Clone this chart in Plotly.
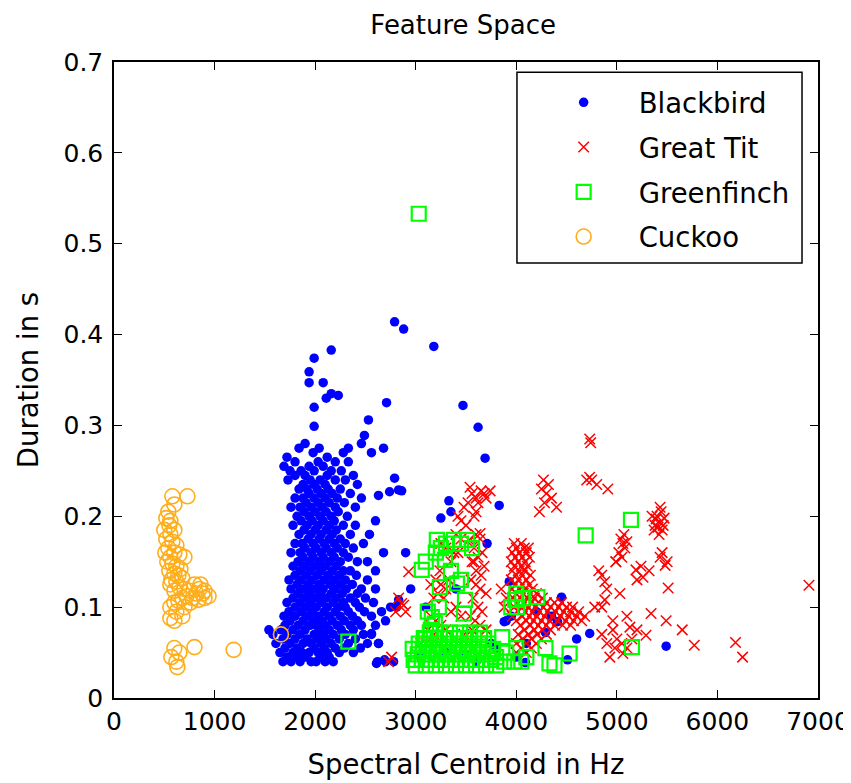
import plotly.graph_objects as go

# ---------------- data (Hz, s) ----------------
# Blackbird: main column, rows of (duration, [centroids])
blackbird_rows = [
    (0.040, [1680, 1760, 1850, 1960, 2010, 2100, 2180, 2620, 2700]),
    (0.045, [1720, 1820, 1900, 2050, 2140]),
    (0.050, [1650, 1780, 1870, 1940, 2030, 2120, 2240, 2380]),
    (0.055, [1700, 1820, 1990, 2090, 2200, 2290, 2450]),
    (0.060, [1610, 1750, 1880, 1960, 2060, 2160, 2330, 2520, 2630]),
    (0.065, [1680, 1800, 1920, 2020, 2110, 2240, 2400]),
    (0.070, [1580, 1720, 1850, 1990, 2080, 2180, 2300, 2480, 2560]),
    (0.075, [1540, 1660, 1780, 1900, 2040, 2140, 2260, 2380]),
    (0.080, [1700, 1830, 1950, 2010, 2100, 2220, 2350, 2460, 2600]),
    (0.085, [1750, 1880, 1980, 2070, 2170, 2290, 2420, 2700]),
    (0.090, [1690, 1800, 1920, 2030, 2140, 2250, 2370, 2560]),
    (0.095, [1740, 1860, 1970, 2090, 2200, 2330, 2490, 2660]),
    (0.100, [1800, 1910, 2010, 2120, 2230, 2300, 2440, 2750]),
    (0.105, [1720, 1850, 1950, 2060, 2180, 2280, 2400, 2580]),
    (0.110, [1780, 1890, 2000, 2110, 2210, 2350, 2500]),
    (0.115, [1830, 1940, 2050, 2160, 2270, 2420]),
    (0.120, [1760, 1880, 1990, 2080, 2200, 2310, 2460, 2600]),
    (0.125, [1820, 1930, 2040, 2150, 2250, 2370]),
    (0.130, [1740, 1860, 1970, 2090, 2190, 2300, 2520]),
    (0.135, [1800, 1910, 2020, 2130, 2240, 2410]),
    (0.140, [1850, 1950, 2060, 2170, 2280, 2350, 2600]),
    (0.145, [1780, 1890, 2000, 2100, 2210]),
    (0.150, [1830, 1940, 2040, 2140, 2250, 2420, 2520]),
    (0.155, [1880, 1980, 2080, 2190, 2330]),
    (0.160, [1760, 1850, 1960, 2060, 2160, 2280, 2680]),
    (0.165, [1900, 2010, 2110, 2220, 2380]),
    (0.170, [1800, 1870, 1980, 2090, 2190, 2300, 2480]),
    (0.175, [1930, 2040, 2140, 2250]),
    (0.180, [1840, 1960, 2060, 2170, 2350, 2540]),
    (0.185, [1890, 2000, 2110, 2210]),
    (0.190, [1780, 1920, 2030, 2140, 2280, 2400]),
    (0.195, [1860, 1970, 2080, 2190, 2600]),
    (0.200, [1820, 1940, 2050, 2160, 2320]),
    (0.205, [1890, 2000, 2110, 2230]),
    (0.210, [1760, 1850, 1960, 2070, 2200, 2400]),
    (0.215, [1910, 2030, 2140, 2290]),
    (0.220, [1800, 1880, 1990, 2100, 2220, 2460]),
    (0.225, [1940, 2060, 2170, 2350]),
    (0.230, [1840, 1920, 2020, 2130, 2250]),
    (0.235, [1880, 1990, 2100, 2420]),
    (0.240, [1730, 1950, 2050, 2200, 2300]),
    (0.245, [1800, 1900, 2120, 2380]),
    (0.250, [1750, 1860, 1990, 2160, 2260]),
    (0.255, [1690, 1940, 2080]),
    (0.260, [1800, 2030, 2200, 2330]),
    (0.265, [1720, 2120]),
    (0.270, [1980, 2280, 2560]),
    (0.275, [1840, 2040, 2330, 2680]),
    (0.280, [1900, 2460]),
]
blackbird_extra_x = [1990, 2530, 2490, 1990, 2710, 2160, 2230, 2110, 1940, 2080, 1940, 1990, 2160,
                     2790, 2880, 3180, 3470, 3620, 3690, 2790, 2740, 2830, 2630, 2860, 3330, 3350,
                     3250, 3830, 2830, 2560, 2630, 2610, 3710, 3930, 4450, 3880, 4730, 5490, 4290,
                     4410, 4510, 4090, 2900, 2950, 3900, 3950, 3050, 3300, 3600, 3800, 4000, 4100,
                     3100, 3400, 2780, 2690, 2810, 4200, 4350, 4600, 3750, 3500]
blackbird_extra_y = [0.299, 0.306, 0.289, 0.320, 0.325, 0.335, 0.333, 0.330, 0.347, 0.347, 0.359, 0.374, 0.383,
                     0.414, 0.406, 0.387, 0.322, 0.298, 0.264, 0.242, 0.227, 0.229, 0.223, 0.228, 0.217, 0.205,
                     0.198, 0.212, 0.108, 0.071, 0.060, 0.038, 0.170, 0.128, 0.111, 0.084, 0.071, 0.057, 0.072,
                     0.084, 0.042, 0.039, 0.160, 0.120, 0.085, 0.090, 0.045, 0.050, 0.040, 0.055, 0.045, 0.060,
                     0.100, 0.120, 0.040, 0.042, 0.100, 0.095, 0.090, 0.065, 0.060, 0.048]

great_tit_x = [
    # cluster near 3400-3700, 0.2-0.23
    3420, 3480, 3520, 3560, 3600, 3650, 3540, 3600, 3700, 3450, 3500, 3580, 3620, 3680, 3740,
    # cluster near 4200-4450, 0.2-0.24
    4250, 4300, 4280, 4230, 4350, 4400, 4320, 4270,
    4740, 4730, 4730, 4750, 4910,
    # column near 4000
    3980, 4050, 4000, 4080, 4120, 3960, 4030, 4100, 3990, 4060, 4130, 3950, 4020, 4090,
    3980, 4050, 4110, 3960, 4030, 4080, 4000, 4060, 4140, 3950, 4020, 4100, 3990, 4060, 4130,
    3960, 4030, 4090, 4160, 4000, 4070, 4140, 4200, 3970, 4040, 4110, 4180, 4260,
    4010, 4080, 4150, 4220, 4300, 4380, 4450,
    3980, 4050, 4120, 4190, 4270, 4340, 4420, 4500, 4560,
    4020, 4090, 4160, 4230, 4310, 4390, 4470, 4540, 4620,
    3960, 4060, 4130, 4200, 4280, 4360, 4440, 4520, 4600, 4680,
    4000, 4100, 4170, 4250, 4330, 4410, 4490, 4570, 4650,
    4040, 4140, 4220, 4300, 4380, 4460, 4540,
    4080, 4180, 4260, 4340, 4020, 4120, 4210, 4300, 4060, 4150, 4250, 4000, 4100, 4200,
    4050, 4150, 4000, 4100,
    # mixed with greenfinch 2700-3700
    3600, 3640, 3580, 3620, 3660, 3560, 3600, 3650, 3680, 3550, 3600, 3640, 3700, 3570, 3620,
    3660, 3540, 3590, 3640, 3700, 3560, 3480, 3200, 3250, 3300, 3220, 3180, 3280, 3330, 3150,
    3240, 3350, 3380, 3300, 3250, 3400, 3450, 3420, 3150, 3200, 3250, 3300, 3120, 3180, 3400,
    3450, 3350, 3100, 3050, 2930, 2880, 2860, 2830, 2800, 2900, 2730, 2760, 3530, 3640, 3580,
    3880, 3900, 3850,
    # 4800-5500 clusters
    5060, 5040, 5080, 5020, 5100, 5050, 4990, 5070,
    5430, 5400, 5450, 5380, 5420, 5470, 5350, 5440, 5410, 5460, 5390, 5430, 5370,
    4880, 4880, 5030, 5190, 5260, 5430, 5480, 5510, 4990, 4900, 4850, 5200, 5320, 5240, 5450,
    5500, 4820, 4780, 4850,
    5340, 5490, 5650, 5770, 6180, 6250, 6910, 4960, 5130, 4930, 5060, 5290, 4960, 5000, 5050,
    4900, 5150, 5100, 4980, 5200, 5100, 4850, 4700, 4800,
]
great_tit_y = [
    0.200, 0.210, 0.215, 0.225, 0.220, 0.228, 0.232, 0.205, 0.220, 0.195, 0.190, 0.200, 0.215, 0.225, 0.228,
    0.230, 0.225, 0.215, 0.205, 0.220, 0.210, 0.235, 0.240,
    0.281, 0.285, 0.243, 0.240, 0.230,
    0.170, 0.170, 0.165, 0.165, 0.165, 0.160, 0.160, 0.160, 0.155, 0.155, 0.155, 0.150, 0.150, 0.150,
    0.145, 0.145, 0.145, 0.140, 0.140, 0.140, 0.135, 0.135, 0.135, 0.130, 0.130, 0.130, 0.125, 0.125, 0.125,
    0.120, 0.120, 0.120, 0.120, 0.115, 0.115, 0.115, 0.115, 0.110, 0.110, 0.110, 0.110, 0.110,
    0.105, 0.105, 0.105, 0.105, 0.105, 0.105, 0.105,
    0.100, 0.100, 0.100, 0.100, 0.100, 0.100, 0.100, 0.100, 0.100,
    0.095, 0.095, 0.095, 0.095, 0.095, 0.095, 0.095, 0.095, 0.095,
    0.090, 0.090, 0.090, 0.090, 0.090, 0.090, 0.090, 0.090, 0.090, 0.090,
    0.085, 0.085, 0.085, 0.085, 0.085, 0.085, 0.085, 0.085, 0.085,
    0.080, 0.080, 0.080, 0.080, 0.080, 0.080, 0.080,
    0.075, 0.075, 0.075, 0.075, 0.070, 0.070, 0.070, 0.070, 0.065, 0.065, 0.065, 0.060, 0.060, 0.060,
    0.055, 0.055, 0.050, 0.050,
    0.180, 0.175, 0.165, 0.155, 0.160, 0.150, 0.140, 0.135, 0.145, 0.130, 0.125, 0.120, 0.115, 0.110, 0.100,
    0.095, 0.090, 0.085, 0.080, 0.075, 0.075, 0.070, 0.130, 0.125, 0.120, 0.115, 0.110, 0.110, 0.130, 0.125,
    0.140, 0.150, 0.160, 0.165, 0.170, 0.180, 0.175, 0.160, 0.090, 0.085, 0.080, 0.075, 0.075, 0.070, 0.100,
    0.090, 0.095, 0.060, 0.060, 0.139, 0.102, 0.104, 0.110, 0.095, 0.095, 0.040, 0.045, 0.174, 0.181, 0.150,
    0.100, 0.110, 0.120,
    0.170, 0.175, 0.165, 0.160, 0.172, 0.155, 0.150, 0.180,
    0.193, 0.200, 0.185, 0.190, 0.180, 0.198, 0.200, 0.205, 0.188, 0.190, 0.197, 0.210, 0.185,
    0.128, 0.108, 0.115, 0.141, 0.133, 0.155, 0.146, 0.121, 0.150, 0.120, 0.135, 0.130, 0.140, 0.145, 0.160,
    0.150, 0.140, 0.100, 0.100,
    0.093, 0.085, 0.075, 0.058, 0.061, 0.045, 0.124, 0.075, 0.078, 0.045, 0.049, 0.069, 0.085, 0.065, 0.060,
    0.060, 0.065, 0.055, 0.055, 0.075, 0.090, 0.070, 0.240, 0.235,
]

greenfinch_x = [
    3030, 2330, 4690, 5140, 5150, 3060, 3210, 3380, 3510, 3290, 3240, 3410, 3490, 3480, 3160, 3190,
    3990, 4010, 3860, 4210, 4290, 4380, 4530, 4330, 3250, 3300, 3450, 3560, 3100, 3200, 3100, 3150,
    4000, 4060, 3950, 3980, 4050, 4100, 3880, 3900, 3800, 4000, 3120, 3230, 3450, 3350,
    # dense block
    3000, 3100, 3200, 3300, 3400, 3500, 3600, 3700, 3800,
    2980, 3060, 3150, 3250, 3350, 3450, 3550, 3650, 3750,
    3020, 3120, 3220, 3320, 3420, 3520, 3620, 3720,
    2970, 3070, 3170, 3270, 3370, 3470, 3570, 3670, 3770,
    3030, 3130, 3230, 3330, 3430, 3530, 3630, 3720,
    3080, 3180, 3280, 3380, 3480, 3580, 3680,
    3140, 3240, 3340, 3440, 3540, 3640,
]
greenfinch_y = [
    0.533, 0.062, 0.179, 0.196, 0.056, 0.141, 0.174, 0.174, 0.174, 0.152, 0.122, 0.126, 0.108, 0.093, 0.089, 0.082,
    0.108, 0.100, 0.067, 0.111, 0.055, 0.036, 0.049, 0.038, 0.165, 0.170, 0.170, 0.165, 0.150, 0.160, 0.065, 0.075,
    0.115, 0.110, 0.100, 0.040, 0.040, 0.045, 0.040, 0.050, 0.045, 0.055, 0.095, 0.100, 0.130, 0.140,
    0.036, 0.036, 0.036, 0.036, 0.036, 0.036, 0.036, 0.036, 0.036,
    0.042, 0.042, 0.042, 0.042, 0.042, 0.042, 0.042, 0.042, 0.042,
    0.048, 0.048, 0.048, 0.048, 0.048, 0.048, 0.048, 0.048,
    0.054, 0.054, 0.054, 0.054, 0.054, 0.054, 0.054, 0.054, 0.054,
    0.060, 0.060, 0.060, 0.060, 0.060, 0.060, 0.060, 0.060,
    0.066, 0.066, 0.066, 0.066, 0.066, 0.066, 0.066,
    0.072, 0.072, 0.072, 0.072, 0.072, 0.072,
]

cuckoo_x = [580, 730, 600, 540, 520, 550, 600, 560, 520, 580, 620, 540, 600, 650, 560, 530, 580, 620,
            660, 550, 600, 640, 570, 680, 620, 560, 650, 700, 600, 750, 800, 850, 880, 900, 840, 780,
            720, 680, 640, 600, 560, 620, 700, 760, 820, 860, 900, 940, 560, 600, 680, 600, 650, 570,
            620, 630, 800, 1190, 1660, 560, 500, 510, 700]
cuckoo_y = [0.222, 0.222, 0.213, 0.205, 0.198, 0.190, 0.185, 0.180, 0.175, 0.172, 0.168, 0.165, 0.160,
            0.158, 0.155, 0.150, 0.148, 0.145, 0.142, 0.140, 0.137, 0.135, 0.130, 0.132, 0.128, 0.125,
            0.122, 0.120, 0.118, 0.118, 0.125, 0.120, 0.115, 0.110, 0.108, 0.110, 0.112, 0.110, 0.107,
            0.105, 0.100, 0.095, 0.100, 0.105, 0.115, 0.125, 0.118, 0.112, 0.088, 0.085, 0.090, 0.055,
            0.050, 0.045, 0.040, 0.034, 0.056, 0.053, 0.070, 0.195, 0.185, 0.160, 0.155]

x_ticks = [0, 1000, 2000, 3000, 4000, 5000, 6000, 7000]
y_ticks = [0, 0.1, 0.2, 0.3, 0.4, 0.5, 0.6, 0.7]

# build blackbird arrays from rows + extras
blackbird_x = [x for d, xs in blackbird_rows for x in xs] + blackbird_extra_x
blackbird_y = [d for d, xs in blackbird_rows for x in xs] + blackbird_extra_y

FONT = "DejaVu Sans"
FS_TICK = 25
FS_TEXT = 27.5
FS_TITLE = 26

fig = go.Figure()
fig.add_trace(go.Scatter(x=blackbird_x, y=blackbird_y, mode="markers", name="Blackbird",
                         marker=dict(symbol="circle", size=9.5, color="#0000FF", line=dict(width=0))))
fig.add_trace(go.Scatter(x=great_tit_x, y=great_tit_y, mode="markers", name="Great Tit",
                         marker=dict(symbol="x-thin", size=10.5, color="#FF0000",
                                     line=dict(width=1.5, color="#FF0000"))))
fig.add_trace(go.Scatter(x=greenfinch_x, y=greenfinch_y, mode="markers", name="Greenfinch",
                         marker=dict(symbol="square-open", size=14, color="#00FF00",
                                     line=dict(width=2.2, color="#00FF00"))))
fig.add_trace(go.Scatter(x=cuckoo_x, y=cuckoo_y, mode="markers", name="Cuckoo",
                         marker=dict(symbol="circle-open", size=15, color="#FFAE1A",
                                     line=dict(width=1.6, color="#FFAE1A"))))

axis_common = dict(showgrid=False, zeroline=False, showline=True, linecolor="black", linewidth=1.5,
                   ticks="inside", ticklen=8, tickwidth=1.2, tickcolor="black", mirror="ticks",
                   tickfont=dict(family=FONT, size=FS_TICK, color="black"))

fig.update_xaxes(range=[0, 7000], tickvals=x_ticks, ticktext=[str(v) for v in x_ticks],
                 title=dict(text="Spectral Centroid in Hz", font=dict(family=FONT, size=FS_TEXT, color="black"),
                            standoff=20),
                 **axis_common)
fig.update_yaxes(range=[0, 0.7], tickvals=y_ticks, ticktext=[("%g" % v) for v in y_ticks],
                 ticklabelstandoff=4,
                 title=dict(text="Duration in s", font=dict(family=FONT, size=FS_TEXT, color="black"),
                            standoff=17),
                 **axis_common)

fig.update_layout(
    width=843, height=775,
    margin=dict(l=106, r=33, t=54, b=85, autoexpand=False),
    paper_bgcolor="white", plot_bgcolor="white",
    title=dict(text="Feature Space", x=0.54, xanchor="center", y=0.978, yanchor="middle",
               font=dict(family=FONT, size=FS_TITLE, color="black")),
    showlegend=True,
    legend=dict(x=0.589, xanchor="left", y=0.975, yanchor="top", bgcolor="rgba(0,0,0,0)",
                borderwidth=0, font=dict(family=FONT, size=FS_TEXT, color="black"),
                itemwidth=100, tracegroupgap=6),
    shapes=[dict(type="rect", xref="paper", yref="paper", x0=0.5724, x1=0.9773, y0=0.684, y1=0.984,
                 line=dict(color="black", width=1.5), fillcolor="white", layer="below")],
)
for i, tr in enumerate(fig.data):
    tr.legendgroup = "g%d" % i

fig.write_html("out.html")
